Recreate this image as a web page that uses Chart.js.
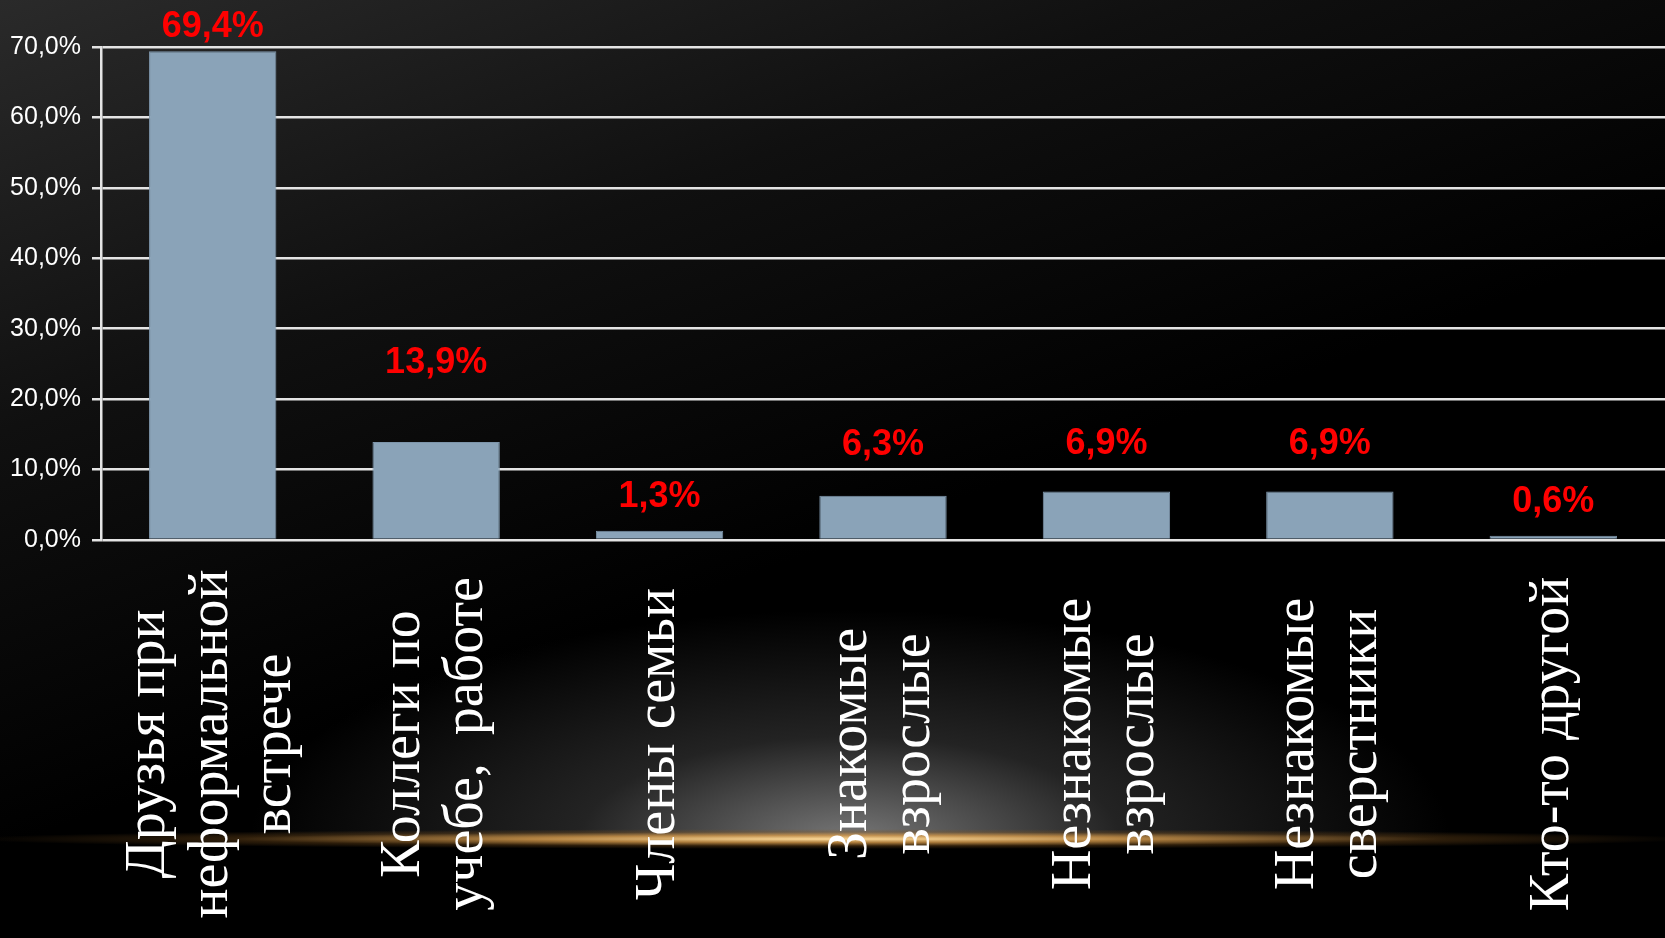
<!DOCTYPE html>
<html lang="ru">
<head>
<meta charset="utf-8">
<title>Chart</title>
<script src="https://cdn.jsdelivr.net/npm/chart.js@4.4.1/dist/chart.umd.min.js"></script>
<style>
  html, body {
    margin: 0;
    padding: 0;
    width: 1665px;
    height: 938px;
    overflow: hidden;
    background: #000;
  }
  #bg {
    position: absolute;
    left: 0; top: 0;
    width: 1665px; height: 938px;
    background: linear-gradient(160deg, #2a2a2a 0%, #101010 28%, #000 55%);
  }
  #glow {
    position: absolute;
    left: 0; top: 540px;
    width: 1665px; height: 300px;
    background: radial-gradient(ellipse 600px 230px at 850px 100%, rgba(140,140,140,0.85) 0%, rgba(70,70,70,0.5) 45%, rgba(0,0,0,0) 100%);
  }
  #streak {
    position: absolute;
    left: 0; top: 829px;
    width: 1665px; height: 20px;
    background: radial-gradient(ellipse 52% 50% at 50% 50%, rgba(250,215,150,1) 0%, rgba(215,155,75,0.8) 35%, rgba(130,85,30,0.35) 70%, rgba(0,0,0,0) 100%);
  }
  #wrap {
    position: absolute;
    left: 0; top: 0;
    width: 1665px; height: 938px;
  }
</style>
</head>
<body>
<div id="bg"></div>
<div id="glow"></div>
<div id="streak"></div>
<div id="wrap"><canvas id="chart"></canvas></div>
<script>
// Categories (multi-line, as in the slide)
const categories = [
    ['Друзья при', 'неформальной', 'встрече'],
    ['Коллеги по', 'учебе,  работе'],
    ['Члены семьи'],
    ['Знакомые', 'взрослые'],
    ['Незнакомые', 'взрослые'],
    ['Незнакомые', 'сверстники'],
    ['Кто-то другой']
];

// Share of answers, %
const shares = [69.4, 13.9, 1.3, 6.3, 6.9, 6.9, 0.6];

// Y axis ticks
const yTicks = [0, 10, 20, 30, 40, 50, 60, 70];

// How high each red label sits above its bar (px), placed by hand on the slide
const labelLift = [24, 79, 34, 51, 47, 47, 34];

function fmtPct(v, digits) {
    return v.toFixed(digits).replace('.', ',') + '%';
}

// Red value labels over bars
const valueLabels = {
    id: 'valueLabels',
    afterDatasetsDraw(chart) {
        const ctx = chart.ctx;
        const meta = chart.getDatasetMeta(0);
        ctx.save();
        ctx.fillStyle = '#ff0000';
        ctx.font = 'bold 36px "Liberation Sans", Arial, sans-serif';
        ctx.textAlign = 'center';
        ctx.textBaseline = 'middle';
        meta.data.forEach((bar, i) => {
            ctx.fillText(fmtPct(shares[i], 1), bar.x, bar.y - labelLift[i]);
        });
        ctx.restore();
    }
};

// Vertical category captions under the axis
const categoryCaptions = {
    id: 'categoryCaptions',
    afterDraw(chart) {
        const ctx = chart.ctx;
        const xScale = chart.scales.x;
        const centerY = chart.chartArea.bottom + 204;
        const lineH = 63;
        ctx.save();
        ctx.fillStyle = '#ffffff';
        ctx.font = '56px "Liberation Serif", "Times New Roman", serif';
        ctx.textAlign = 'center';
        ctx.textBaseline = 'middle';
        categories.forEach((lines, i) => {
            const x = xScale.getPixelForValue(i);
            lines.forEach((line, j) => {
                const off = (j - (lines.length - 1) / 2) * lineH;
                ctx.save();
                ctx.translate(x + off, centerY);
                ctx.rotate(-Math.PI / 2);
                ctx.fillText(line, 0, 0);
                ctx.restore();
            });
        });
        ctx.restore();
    }
};

const ctx = document.getElementById('chart');

new Chart(ctx, {
    type: 'bar',
    data: {
        labels: categories,
        datasets: [{
            data: shares,
            backgroundColor: '#8aa3b8',
            borderColor: '#7d95aa',
            borderWidth: 1,
            barPercentage: 0.57,
            categoryPercentage: 1.0
        }]
    },
    options: {
        responsive: true,
        maintainAspectRatio: false,
        animation: false,
        layout: {
            padding: { top: 47, right: 0, bottom: 0, left: 0 }
        },
        plugins: {
            legend: { display: false },
            tooltip: { enabled: false },
            title: { display: false }
        },
        scales: {
            x: {
                ticks: { display: false },
                grid: { display: false },
                border: { display: false },
                afterFit: function(scale) {
                    scale.height = 398;
                }
            },
            y: {
                min: 0,
                max: 70,
                afterBuildTicks: function(scale) {
                    scale.ticks = yTicks.map(v => ({ value: v }));
                },
                afterFit: function(scale) {
                    scale.width = 101;
                },
                ticks: {
                    color: '#ffffff',
                    padding: 11,
                    font: {
                        family: '"Liberation Sans", Arial, sans-serif',
                        size: 25
                    },
                    callback: function(value) {
                        return fmtPct(value, 1);
                    }
                },
                grid: {
                    color: '#e4e4e4',
                    lineWidth: 2.5,
                    tickLength: 9,
                    drawTicks: true
                },
                border: {
                    display: true,
                    color: '#e4e4e4',
                    width: 2.5
                }
            }
        }
    },
    plugins: [valueLabels, categoryCaptions]
});
</script>
</body>
</html>
